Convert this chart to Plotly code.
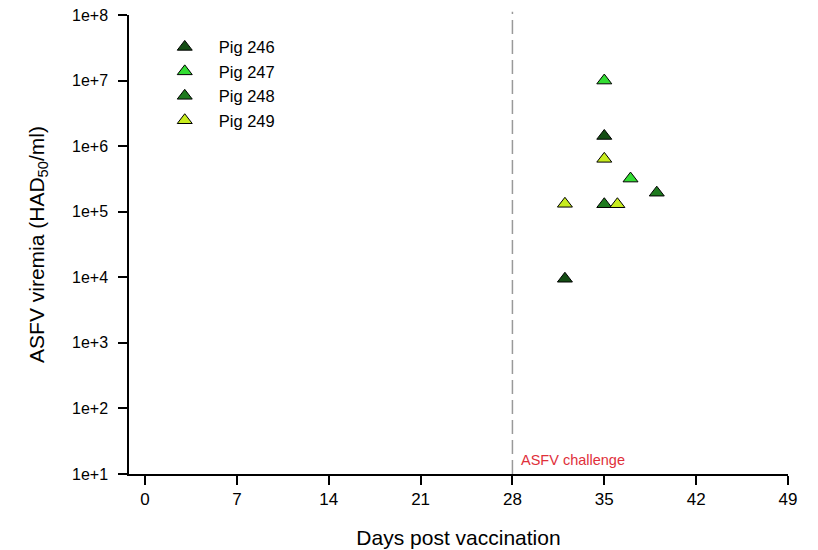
import plotly.graph_objects as go

# Data
pig_names = ["Pig 246", "Pig 247", "Pig 248", "Pig 249"]
pig_colors = ["#144d14", "#33dd33", "#1e7a1e", "#c8ec1e"]
pig246_days = [32, 35]
pig246_vals = [9.5e3, 1.43e6]
pig247_days = [35, 37]
pig247_vals = [1.0e7, 3.2e5]
pig248_days = [35, 39]
pig248_vals = [1.3e5, 1.95e5]
pig249_days = [32, 35, 36]
pig249_vals = [1.32e5, 6.4e5, 1.3e5]

x_ticks = [0, 7, 14, 21, 28, 35, 42, 49]
y_tickvals = [1e1, 1e2, 1e3, 1e4, 1e5, 1e6, 1e7, 1e8]
y_ticktext = ["1e+1", "1e+2", "1e+3", "1e+4", "1e+5", "1e+6", "1e+7", "1e+8"]
challenge_day = 28

series = [
    (pig246_days, pig246_vals),
    (pig247_days, pig247_vals),
    (pig248_days, pig248_vals),
    (pig249_days, pig249_vals),
]

fig = go.Figure()
for name, color, (xs, ys) in zip(pig_names, pig_colors, series):
    fig.add_trace(go.Scatter(
        x=xs, y=ys, mode="markers", name=name,
        marker=dict(symbol="triangle-up", size=13, color=color,
                    line=dict(color="black", width=1)),
    ))

fig.add_shape(type="line", x0=challenge_day, x1=challenge_day, xref="x",
              y0=0, y1=1.007, yref="paper",
              line=dict(color="#999999", width=1.5, dash="14px,6px"))
fig.add_annotation(x=challenge_day, xref="x", y=0.008, yref="paper",
                   text="ASFV challenge", showarrow=False,
                   xanchor="left", yanchor="bottom", xshift=7,
                   font=dict(color="#e0303a", size=14.5))

font_family = "Liberation Sans, Arial, sans-serif"
fig.update_layout(
    width=818, height=550,
    margin=dict(l=129, r=30, t=15, b=76),
    plot_bgcolor="white", paper_bgcolor="white",
    font=dict(family=font_family, color="black"),
    showlegend=True,
    legend=dict(x=0.033, y=0.968, xanchor="left", yanchor="top",
                bgcolor="rgba(0,0,0,0)", font=dict(size=16.5),
                itemwidth=58, tracegroupgap=0),
    xaxis=dict(range=[-1.22, 49], tickvals=x_ticks, showgrid=False,
               zeroline=False, showline=True, linecolor="black", linewidth=1.5,
               ticks="outside", ticklen=9, tickwidth=1.5, tickcolor="black",
               tickfont=dict(size=17), automargin=False,
               title=dict(text="Days post vaccination", font=dict(size=21), standoff=22)),
    yaxis=dict(type="log", range=[1, 8], tickvals=y_tickvals, ticktext=y_ticktext,
               showgrid=False, zeroline=False, showline=True, linecolor="black",
               linewidth=1.5, ticks="outside", ticklen=9, tickwidth=1.5,
               tickcolor="black", tickfont=dict(size=16), automargin=False,
               ticklabelstandoff=7,
               title=dict(text="ASFV viremia (HAD<sub>50</sub>/ml)", font=dict(size=21), standoff=22)),
)

fig.write_html("out.html")
